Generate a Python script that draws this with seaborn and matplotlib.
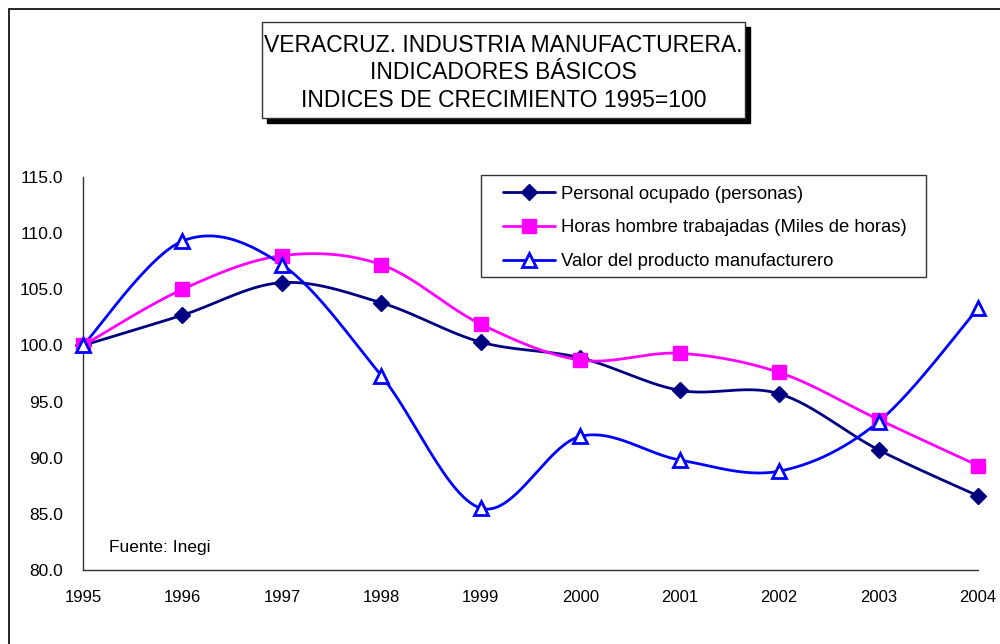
import numpy as np
import pandas as pd
import matplotlib
matplotlib.use("Agg")
import matplotlib.pyplot as plt
from matplotlib.lines import Line2D
from matplotlib.patches import Rectangle
import seaborn as sns

# Datos (índices 1995=100)
anios = [1995, 1996, 1997, 1998, 1999, 2000, 2001, 2002, 2003, 2004]
personal = [100.0, 102.7, 105.6, 103.8, 100.3, 98.9, 96.0, 95.7, 90.7, 86.6]
horas = [100.0, 105.0, 108.0, 107.2, 101.9, 98.7, 99.3, 97.6, 93.4, 89.3]
valor = [100.0, 109.3, 107.2, 97.3, 85.5, 91.9, 89.8, 88.8, 93.2, 103.3]

etiquetas = ["Personal ocupado (personas)",
             "Horas hombre trabajadas (Miles de horas)",
             "Valor del producto manufacturero"]
titulo = "VERACRUZ. INDUSTRIA MANUFACTURERA.\nINDICADORES BÁSICOS\nINDICES DE CRECIMIENTO 1995=100"
y_ticks = [80, 85, 90, 95, 100, 105, 110, 115]


def suavizar(x, y, n=30):
    # curva suavizada tipo Excel (Bezier / Catmull-Rom) a partir de los datos
    p = np.column_stack([x, y]).astype(float)
    p = np.vstack([p[0], p, p[-1]])
    out = []
    t = np.linspace(0, 1, n)[:, None]
    for i in range(1, len(p) - 2):
        b0 = p[i]
        b1 = p[i] + (p[i + 1] - p[i - 1]) / 6
        b2 = p[i + 1] - (p[i + 2] - p[i]) / 6
        b3 = p[i + 1]
        seg = ((1 - t) ** 3 * b0 + 3 * (1 - t) ** 2 * t * b1
               + 3 * (1 - t) * t ** 2 * b2 + t ** 3 * b3)
        out.append(seg if i == 1 else seg[1:])
    out = np.vstack(out)
    return out[:, 0], out[:, 1]


sns.set_style("white")
plt.rcParams["font.family"] = ["Liberation Sans", "DejaVu Sans"]
plt.rcParams["text.color"] = "black"
plt.rcParams["xtick.color"] = "black"
plt.rcParams["ytick.color"] = "black"

fig = plt.figure(figsize=(10, 6.44), dpi=100)
ax = fig.add_axes([0.083, 0.115, 0.895, 0.61])

series = [
    (personal, "#000080", "D", 8, "#000080"),
    (horas, "#FF00FF", "s", 10, "#FF00FF"),
    (valor, "#0000FF", "^", 10, "white"),
]

handles = []
for (vals, color, mk, ms, face), lab in zip(series, etiquetas):
    xs, ys = suavizar(anios, vals)
    df = pd.DataFrame({"x": xs, "y": ys})
    sns.lineplot(data=df, x="x", y="y", ax=ax, color=color, lw=2,
                 sort=False, estimator=None)
    ax.plot(anios, vals, linestyle="none", marker=mk, ms=ms, color=color,
            mfc=face, mec=color, mew=2 if face == "white" else 1, clip_on=False,
            zorder=5)
    handles.append(Line2D([0], [0], color=color, lw=2, marker=mk, ms=ms,
                          mfc=face, mec=color, mew=2 if face == "white" else 1))

ax.set_xlim(1995, 2004)
ax.set_ylim(80, 115)
ax.set_xticks(anios)
ax.set_xticklabels([str(a) for a in anios])
ax.set_yticks(y_ticks)
ax.set_yticklabels([f"{v:.1f}" for v in y_ticks])
ax.set_xlabel("")
ax.set_ylabel("")
for s in ["top", "right"]:
    ax.spines[s].set_visible(False)
for s in ["left", "bottom"]:
    ax.spines[s].set_color("#333333")
    ax.spines[s].set_linewidth(1)
ax.tick_params(axis="both", direction="out", width=1, color="#333333",
               labelcolor="black")
ax.tick_params(axis="y", length=4.5, labelsize=12.5, pad=10)
ax.tick_params(axis="x", length=3.5, labelsize=12, pad=11)

ax.text(0.029, 0.058, "Fuente: Inegi", transform=ax.transAxes,
        fontsize=12.5, ha="left", va="center", color="black")

# leyenda sin marco propio; el recuadro se dibuja aparte
leg = ax.legend(handles, etiquetas, loc="center left",
                bbox_to_anchor=(0.503, 1 - 228 / 644), bbox_transform=fig.transFigure,
                borderaxespad=0, borderpad=0, fontsize=13.3, frameon=False,
                handlelength=2.8, handletextpad=0.32, labelspacing=0.9,
                labelcolor="black")
fig.patches.append(Rectangle((0.481, 1 - 277 / 644), 0.445, 102 / 644,
                             transform=fig.transFigure, fill=False,
                             edgecolor="#333333", lw=1, zorder=1))

# marco exterior del gráfico
fig.patches.append(Rectangle((0.009, -0.2), 1.3, 1.186, transform=fig.transFigure,
                             fill=False, edgecolor="black", lw=1.2, zorder=0))

# caja del título con sombra
fig.patches.append(Rectangle((0.267, 0.8168 - 0.0078), 0.483, 0.149,
                             transform=fig.transFigure, facecolor="black",
                             edgecolor="black", zorder=1))
fig.patches.append(Rectangle((0.262, 0.8168), 0.483, 0.149,
                             transform=fig.transFigure, facecolor="white",
                             edgecolor="#333333", lw=1, zorder=2))
fig.text(0.5035, 0.887, titulo, ha="center", va="center", fontsize=16.5,
         linespacing=1.25, zorder=3, color="black")

fig.savefig("out.png", dpi=100, facecolor="white")
